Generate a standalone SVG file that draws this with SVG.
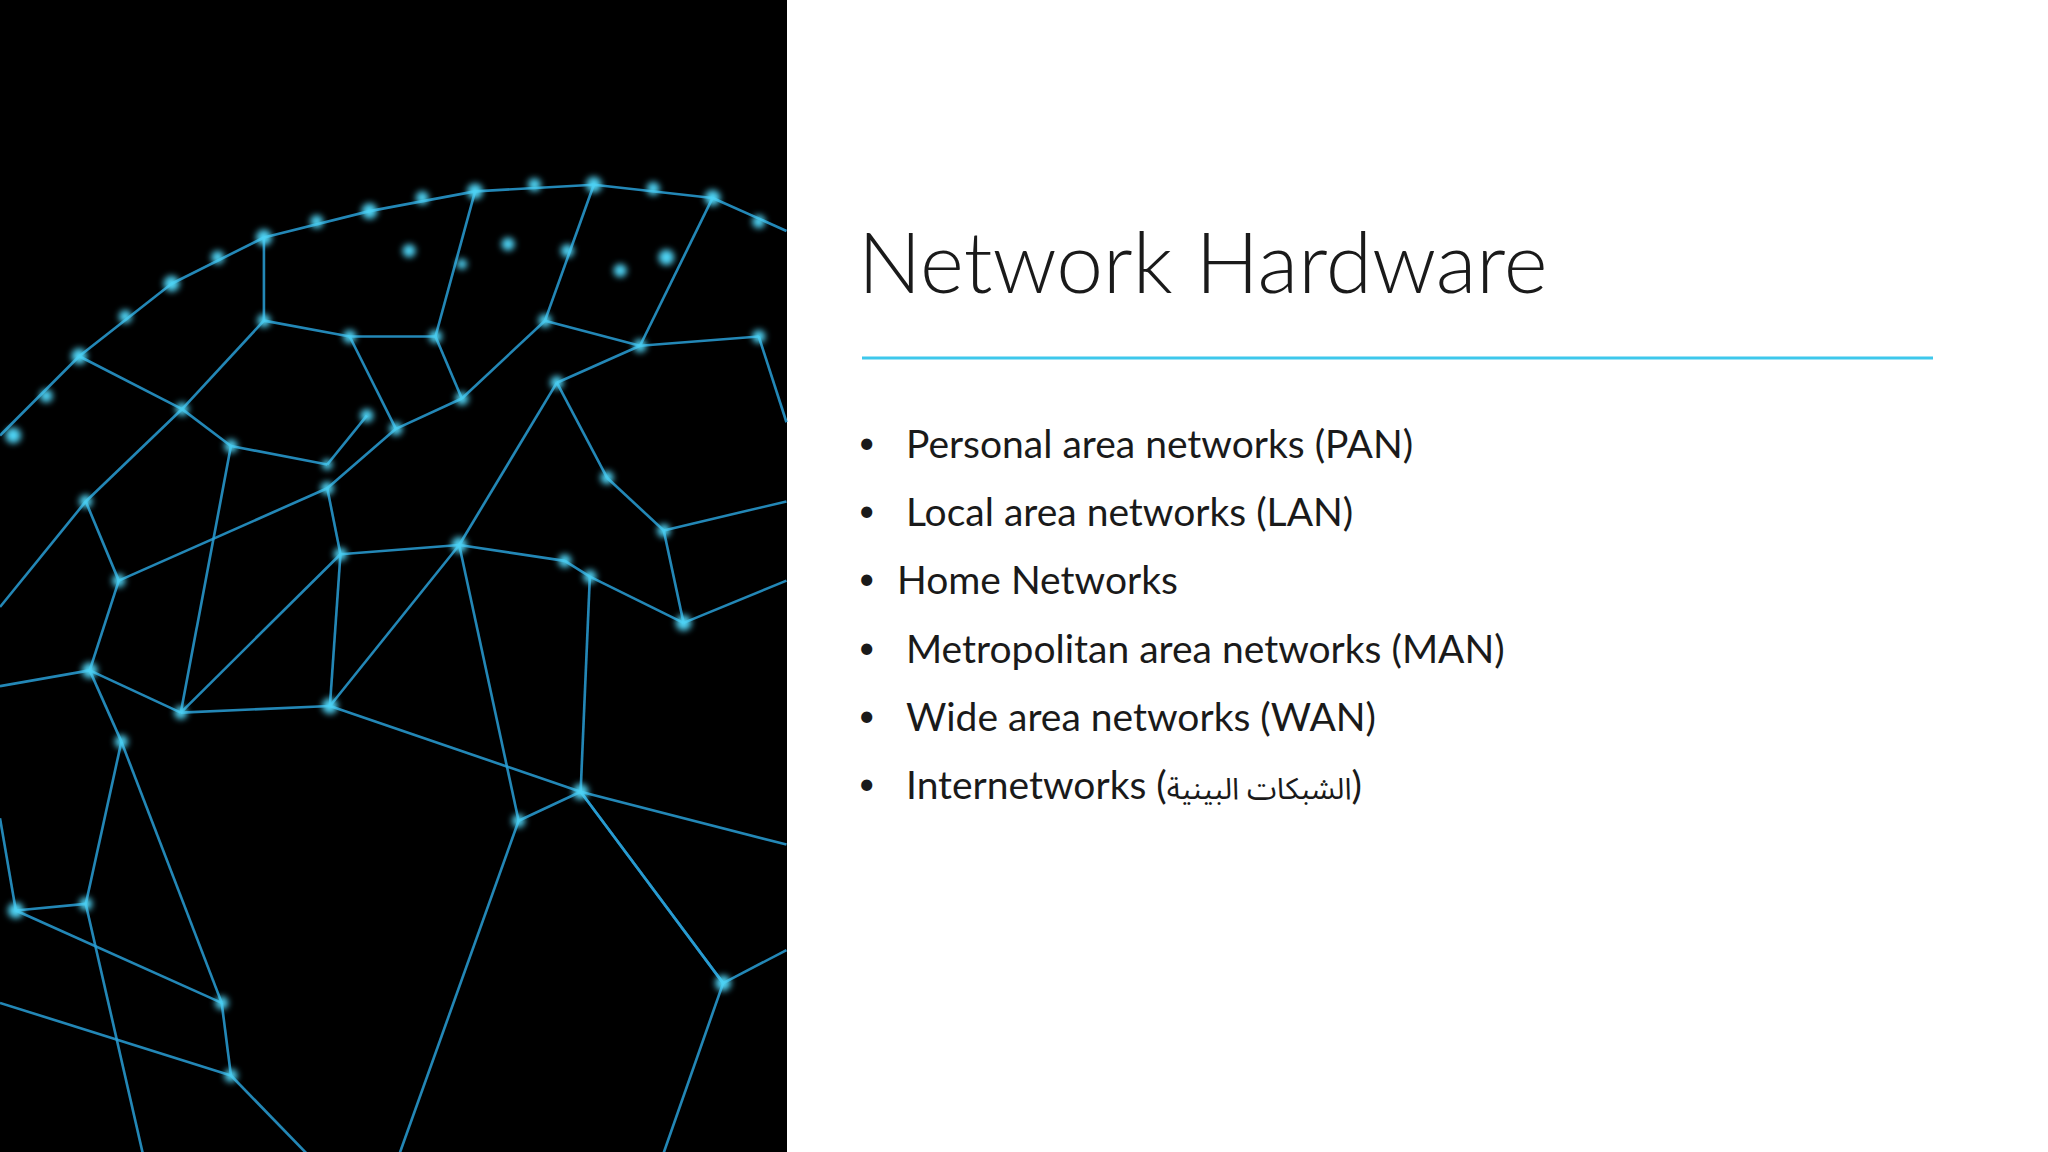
<svg xmlns="http://www.w3.org/2000/svg" width="2048" height="1152" viewBox="0 0 2048 1152">
<style>
.t{font-family:Lato,"Noto Sans","DejaVu Sans",sans-serif;fill:#1a1a1a}
.b{font-size:39px}
.u{font-size:30px}
.l line{stroke:#2a9fd6;stroke-width:2;opacity:.85}
.d circle{fill:#4fd4f5}
</style>
<defs><filter id="g"><feGaussianBlur stdDeviation="2.5"/></filter></defs>
<rect width="2048" height="1152" fill="#fff"/>
<g id="photo">
<rect width="787" height="1152" fill="#000"/>
<g transform="scale(1.3196)">
<g class="l">
<line x1="65" y1="380" x2="90" y2="440"/><line x1="90" y1="440" x2="68" y2="508"/><line x1="68" y1="508" x2="137" y2="540"/><line x1="68" y1="508" x2="92" y2="562"/><line x1="92" y1="562" x2="65" y2="685"/><line x1="65" y1="685" x2="12" y2="690"/><line x1="92" y1="562" x2="168" y2="760"/><line x1="168" y1="760" x2="175" y2="815"/><line x1="137" y1="540" x2="250" y2="535"/><line x1="250" y1="535" x2="258" y2="420"/><line x1="258" y1="420" x2="248" y2="370"/><line x1="258" y1="420" x2="348" y2="413"/><line x1="348" y1="413" x2="428" y2="425"/><line x1="428" y1="425" x2="447" y2="437"/><line x1="447" y1="437" x2="518" y2="472"/><line x1="518" y1="472" x2="503" y2="402"/><line x1="447" y1="437" x2="440" y2="600"/><line x1="440" y1="600" x2="393" y2="622"/><line x1="393" y1="622" x2="348" y2="413"/><line x1="440" y1="600" x2="548" y2="745"/><line x1="250" y1="535" x2="440" y2="600"/><line x1="250" y1="535" x2="348" y2="413"/><line x1="248" y1="370" x2="300" y2="325"/><line x1="300" y1="325" x2="350" y2="302"/><line x1="278" y1="315" x2="248" y2="352"/><line x1="350" y1="302" x2="330" y2="255"/><line x1="330" y1="255" x2="265" y2="255"/><line x1="265" y1="255" x2="200" y2="243"/><line x1="200" y1="243" x2="138" y2="310"/><line x1="138" y1="310" x2="175" y2="338"/><line x1="175" y1="338" x2="248" y2="352"/><line x1="350" y1="302" x2="413" y2="243"/><line x1="413" y1="243" x2="485" y2="262"/><line x1="485" y1="262" x2="422" y2="290"/><line x1="422" y1="290" x2="460" y2="362"/><line x1="460" y1="362" x2="503" y2="402"/><line x1="485" y1="262" x2="575" y2="255"/><line x1="138" y1="310" x2="65" y2="380"/><line x1="65" y1="380" x2="0" y2="460"/><line x1="68" y1="508" x2="0" y2="520"/><line x1="12" y1="690" x2="0" y2="620"/><line x1="137" y1="540" x2="175" y2="338"/><line x1="90" y1="440" x2="248" y2="370"/><line x1="518" y1="472" x2="596" y2="440"/><line x1="548" y1="745" x2="596" y2="720"/><line x1="548" y1="745" x2="500" y2="882"/><line x1="175" y1="815" x2="240" y2="882"/><line x1="12" y1="690" x2="168" y2="760"/><line x1="65" y1="685" x2="110" y2="882"/><line x1="440" y1="600" x2="596" y2="640"/><line x1="393" y1="622" x2="300" y2="882"/><line x1="503" y1="402" x2="596" y2="380"/><line x1="422" y1="290" x2="348" y2="413"/><line x1="265" y1="255" x2="300" y2="325"/><line x1="575" y1="255" x2="596" y2="320"/><line x1="0" y1="330" x2="60" y2="270"/><line x1="60" y1="270" x2="130" y2="215"/><line x1="130" y1="215" x2="200" y2="180"/><line x1="200" y1="180" x2="280" y2="160"/><line x1="280" y1="160" x2="360" y2="145"/><line x1="360" y1="145" x2="450" y2="140"/><line x1="450" y1="140" x2="540" y2="150"/><line x1="540" y1="150" x2="596" y2="175"/><line x1="200" y1="180" x2="200" y2="243"/><line x1="360" y1="145" x2="330" y2="255"/><line x1="450" y1="140" x2="413" y2="243"/><line x1="540" y1="150" x2="485" y2="262"/><line x1="60" y1="270" x2="138" y2="310"/><line x1="175" y1="815" x2="0" y2="760"/><line x1="548" y1="745" x2="440" y2="600"/><line x1="258" y1="420" x2="137" y2="540"/>
</g>
<g class="d" filter="url(#g)">
<circle cx="65" cy="380" r="5"/><circle cx="90" cy="440" r="5"/><circle cx="68" cy="508" r="6"/><circle cx="137" cy="540" r="5"/><circle cx="92" cy="562" r="5"/><circle cx="65" cy="685" r="5"/><circle cx="12" cy="690" r="6"/><circle cx="168" cy="760" r="5"/><circle cx="175" cy="815" r="5"/><circle cx="250" cy="535" r="6"/><circle cx="258" cy="420" r="5"/><circle cx="248" cy="370" r="5"/><circle cx="348" cy="413" r="6"/><circle cx="428" cy="425" r="5"/><circle cx="447" cy="437" r="5"/><circle cx="518" cy="472" r="6"/><circle cx="503" cy="402" r="5"/><circle cx="440" cy="600" r="6"/><circle cx="393" cy="622" r="5"/><circle cx="548" cy="745" r="6"/><circle cx="300" cy="325" r="5"/><circle cx="350" cy="302" r="5"/><circle cx="278" cy="315" r="5"/><circle cx="248" cy="352" r="4"/><circle cx="330" cy="255" r="5"/><circle cx="265" cy="255" r="5"/><circle cx="200" cy="243" r="5"/><circle cx="138" cy="310" r="5"/><circle cx="175" cy="338" r="5"/><circle cx="413" cy="243" r="5"/><circle cx="485" cy="262" r="5"/><circle cx="422" cy="290" r="5"/><circle cx="460" cy="362" r="5"/><circle cx="575" cy="255" r="5"/>
<circle cx="10" cy="330" r="6"/><circle cx="35" cy="300" r="5"/><circle cx="60" cy="270" r="6"/><circle cx="95" cy="240" r="5"/><circle cx="130" cy="215" r="6"/><circle cx="165" cy="195" r="5"/><circle cx="200" cy="180" r="6"/><circle cx="240" cy="168" r="5"/><circle cx="280" cy="160" r="6"/><circle cx="320" cy="150" r="5"/><circle cx="360" cy="145" r="6"/><circle cx="405" cy="140" r="5"/><circle cx="450" cy="140" r="6"/><circle cx="495" cy="143" r="5"/><circle cx="540" cy="150" r="6"/><circle cx="575" cy="168" r="5"/><circle cx="310" cy="190" r="5"/><circle cx="385" cy="185" r="5"/><circle cx="430" cy="190" r="5"/><circle cx="470" cy="205" r="5"/><circle cx="505" cy="195" r="6"/><circle cx="350" cy="200" r="4"/>
</g>
</g>
</g>
<g id="title">
<text class="t" x="858" y="293" font-size="84" font-weight="300">Network Hardware</text>
<line x1="862" y1="358" x2="1933" y2="358" stroke="#3ec8ec" stroke-width="3"/>
</g>
<g id="bullets" class="t b">
<text class="u" x="858" y="453">•</text><text x="906" y="458">Personal area networks (PAN)</text>
<text class="u" x="858" y="521">•</text><text x="906" y="526">Local area networks (LAN)</text>
<text class="u" x="858" y="589">•</text><text x="897" y="594">Home Networks</text>
<text class="u" x="858" y="658">•</text><text x="906" y="663">Metropolitan area networks (MAN)</text>
<text class="u" x="858" y="726">•</text><text x="906" y="731">Wide area networks (WAN)</text>
<text class="u" x="858" y="794">•</text><text x="906" y="799">Internetworks (<tspan font-size="30" font-family="'Noto Sans Arabic','DejaVu Sans',sans-serif">الشبكات البينية</tspan>)</text>
</g>
</svg>
